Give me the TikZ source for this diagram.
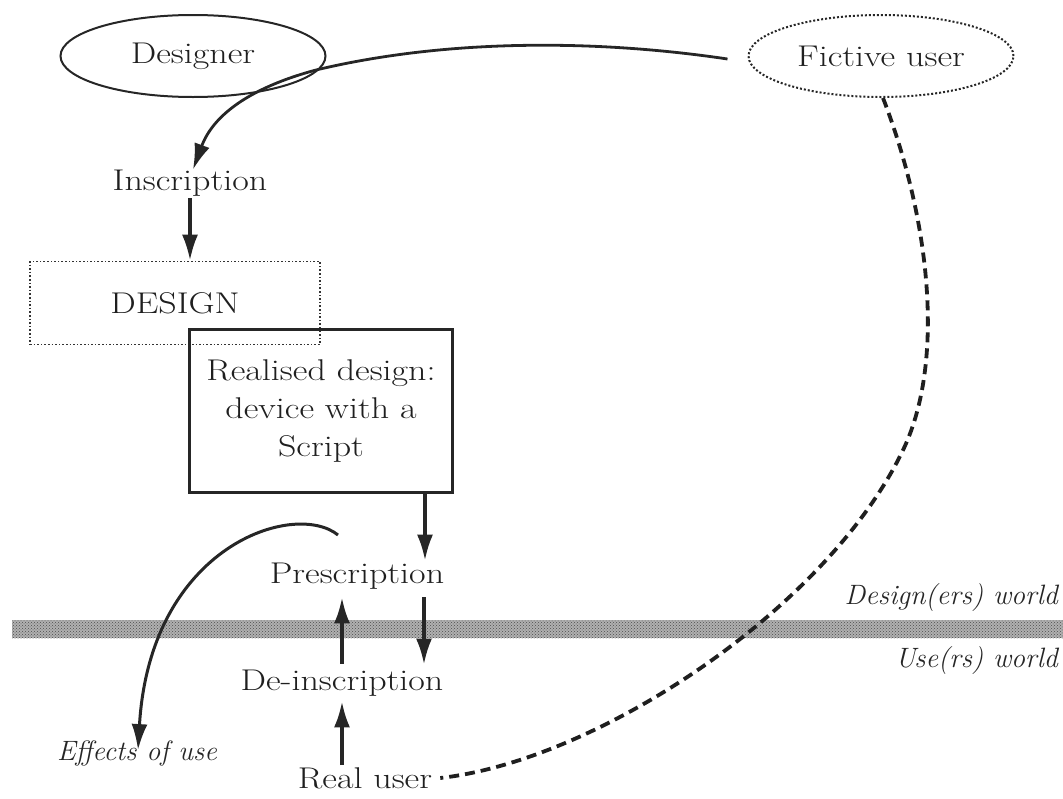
\documentclass[tikz,border=0pt]{standalone}
\usepackage{fontspec}
\setmainfont{Latin Modern Roman}[FakeStretch=1.2]
\newfontfamily\plainlm{Latin Modern Roman}
\usetikzlibrary{arrows.meta,shapes.geometric,patterns}
\begin{document}
\begin{tikzpicture}[x=1pt,y=-1pt,
  lbl/.style={font=\fontsize{30}{36}\selectfont, text=black!88, inner sep=2pt},
  ital/.style={font=\plainlm\fontsize{28}{32}\selectfont\itshape, text=black!85, inner sep=2pt},
  arr/.style={line width=3.4pt, draw=black!85, -{Latex[length=26pt,width=16pt]}},
  dashc/.style={line width=3.8pt, draw=black!88, dash pattern=on 10pt off 6pt},
  oval/.style={ellipse, draw=black!85, minimum width=265pt, minimum height=82pt, inner sep=0pt}
]
\useasboundingbox (0,0) rectangle (1063,798);
% band
\fill[gray!62] (12,620) rectangle (1063,638);
\fill[pattern=crosshatch dots, pattern color=gray!60!black] (12,620) rectangle (1063,638);

\node[oval, line width=2pt, lbl] (designer) at (193,56) {Designer};
\node[oval, line width=2pt, dotted, lbl] (fictive) at (881,56) {Fictive user};
\node[lbl] (insc) at (190,183) {Inscription};
\node[draw=black!80, dotted, line width=1.6pt, minimum width=290pt, minimum height=83pt, lbl] (design) at (175,303) {DESIGN};
\node[draw=black!85, line width=2.4pt, minimum width=263pt, minimum height=163pt, lbl, align=center] (realised) at (321,411) {Realised design:\\[2pt] device with a\\[2pt] Script};
\node[lbl] (presc) at (357,576) {Prescription};
\node[lbl] (deinsc) at (342,683) {De-inscription};
\node[lbl] (real) at (365,778) {Real user};
\node[ital] (effects) at (137,753) {Effects of use};
\node[ital, anchor=east] (dworld) at (1060,598) {Design(ers) world};
\node[ital, anchor=east] (uworld) at (1060,661) {Use(rs) world};
\coordinate (effstart) at (338,535);
\coordinate (bend) at (316,70);

\draw[arr, line width=2.8pt] ([xshift=-20pt,yshift=-3pt]fictive.west) .. controls (600,40) and (450,38) .. (bend)
  .. controls (260,85) and (215,110) .. ([xshift=3pt,yshift=-2pt]insc.north);
\draw[arr] (insc.south) -- (design.north -| insc.south);
\draw[arr] (realised.south -| 425,0) -- (presc.north -| 425,0);
\draw[arr, shorten <=6pt, shorten >=3pt] (presc.south -| 424,0) -- (deinsc.north -| 424,0);
\draw[arr, shorten <=4pt, shorten >=6pt] (deinsc.north) -- (presc.south -| deinsc.north);
\draw[arr, shorten >=3pt] (real.north -| deinsc.south) -- (deinsc.south);
\draw[arr, line width=3pt] (effstart) .. controls (295,500) and (150,545) .. ([xshift=1pt,yshift=-12pt]effects.north);
\draw[dashc] ([xshift=2pt]fictive.south) .. controls (930,220) and (945,360) .. (904,448)
  .. controls (830,606) and (600,760) .. ([xshift=6pt]real.east);
\end{tikzpicture}
\end{document}
